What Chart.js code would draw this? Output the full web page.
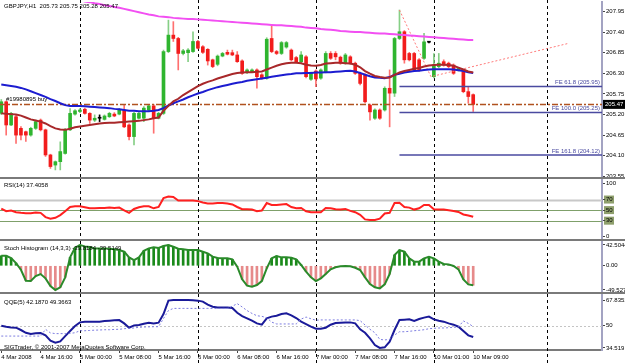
<!DOCTYPE html>
<html>
<head>
<meta charset="utf-8">
<title>GBPJPY,H1</title>
<script src="https://cdn.jsdelivr.net/npm/chart.js@4.4.1/dist/chart.umd.min.js"></script>
<style>
  html, body { margin: 0; padding: 0; background: #fff; }
  #chart { position: relative; width: 625px; height: 363px; overflow: hidden; }
  #chart canvas { position: absolute; left: 0; }
</style>
</head>
<body>
<div id="chart">
  <canvas id="main" width="625" height="179" style="top:0"></canvas>
  <canvas id="rsi" width="625" height="62" style="top:179px"></canvas>
  <canvas id="stoch" width="625" height="53" style="top:241px"></canvas>
  <canvas id="qqe" width="625" height="69" style="top:294px"></canvas>
</div>
<script>
// bougies H1 (barre 0 = 4 Mar 08:00)
const opens = [205.23,205.54,204.92,205.14,204.83,204.74,204.65,204.83,205.05,204.79,
  204.12,203.85,203.94,204.16,204.79,205.21,205.28,205.34,205.23,205.05,
  205.10,205.07,205.14,205.21,205.21,205.32,204.92,204.61,205.10,205.10,
  205.32,205.43,205.10,205.23,206.88,207.32,207.23,206.83,206.85,206.88,
  207.15,207.01,206.94,206.66,206.54,206.76,206.86,206.85,206.79,206.63,
  206.32,206.34,206.39,206.26,206.17,207.23,206.88,206.83,207.00,206.92,
  206.72,206.61,206.74,206.14,206.36,206.17,206.34,206.83,206.83,206.73,
  206.57,206.74,206.57,206.30,206.26,205.45,205.10,205.32,205.32,205.90,
  205.77,207.23,207.41,206.83,206.83,206.66,206.70,207.13,206.21,206.48,
  206.61,206.57,206.52,206.39,206.34,205.81,205.73];
const highs = [205.60,205.56,205.26,205.20,204.88,204.76,204.86,205.05,205.08,204.81,
  204.14,203.96,204.47,204.83,205.36,205.33,205.36,205.37,205.25,205.19,
  205.19,205.19,205.26,205.25,205.36,205.45,204.95,205.26,205.26,205.41,
  205.46,205.47,205.26,206.92,207.72,207.68,207.26,206.94,206.96,207.41,
  207.18,207.04,206.96,206.68,206.79,206.86,206.92,206.92,206.88,206.66,
  206.42,206.42,206.42,206.29,207.25,207.59,206.91,207.15,207.15,206.95,
  206.75,206.88,206.77,206.33,206.39,206.42,206.88,206.88,206.88,206.76,
  206.83,206.77,206.60,206.33,206.29,205.48,205.35,205.35,205.94,206.39,
  207.26,207.99,207.44,206.86,206.86,206.69,207.37,207.15,206.83,206.83,
  206.66,206.60,206.55,206.46,206.39,205.94,205.75];
const lows = [205.20,204.65,204.90,204.43,204.52,204.48,204.62,204.80,204.76,204.08,
  203.76,203.72,203.72,204.14,204.77,205.18,205.25,205.21,204.96,205.01,
  205.01,205.05,205.12,205.14,205.19,204.85,204.52,204.39,205.08,205.01,
  205.30,204.70,205.08,205.20,206.85,207.15,206.39,206.79,206.61,206.86,
  206.95,206.83,206.52,206.45,206.50,206.74,206.79,206.77,206.59,206.27,
  206.29,206.32,205.90,206.14,206.14,206.85,206.80,206.80,206.97,206.63,
  206.58,206.58,206.18,206.11,205.94,206.14,206.31,206.67,206.66,206.54,
  206.54,206.54,206.27,205.99,205.51,205.05,205.07,205.07,205.29,204.87,
  205.68,207.20,206.57,206.63,206.36,206.36,206.67,207.11,206.18,206.45,
  206.49,206.45,206.27,206.36,205.78,205.50,205.28];
const closes = [205.54,204.92,205.23,204.65,204.65,204.65,204.83,205.01,204.79,204.12,
  203.81,203.94,204.21,204.79,205.23,205.30,205.32,205.23,205.05,205.10,
  205.10,205.16,205.23,205.16,205.32,204.87,204.61,205.23,205.23,205.37,
  205.43,205.10,205.23,206.88,207.32,207.23,206.83,206.90,206.92,207.15,
  206.97,206.86,206.63,206.48,206.76,206.83,206.81,206.79,206.61,206.30,
  206.39,206.39,206.21,206.17,207.21,206.88,206.83,207.12,207.12,206.66,
  206.61,206.79,206.21,206.30,206.15,206.39,206.83,206.70,206.74,206.57,
  206.79,206.57,206.30,206.03,205.54,205.27,205.32,205.10,205.90,205.77,
  207.23,207.41,206.66,206.66,206.39,206.39,207.14,207.13,206.52,206.57,
  206.52,206.48,206.30,206.43,205.81,205.68,205.47];

// moyennes mobiles
const maFast = [205.23,205.22,205.21,205.20,205.17,205.12,205.07,205.04,205.01,204.96,
  204.89,204.83,204.80,204.79,204.82,204.86,204.88,204.90,204.92,204.94,
  204.96,204.97,204.98,204.98,204.99,205.00,205.01,205.02,205.03,205.05,
  205.07,205.10,205.12,205.30,205.43,205.55,205.62,205.72,205.80,205.88,
  205.96,206.02,206.07,206.11,206.16,206.20,206.24,206.28,206.31,206.32,
  206.33,206.33,206.34,206.35,206.40,206.45,206.50,206.54,206.57,206.58,
  206.58,206.57,206.53,206.51,206.50,206.52,206.56,206.57,206.58,206.58,
  206.57,206.56,206.53,206.46,206.36,206.29,206.23,206.20,206.18,206.19,
  206.26,206.32,206.36,206.39,206.42,206.44,206.48,206.51,206.52,206.53,
  206.53,206.52,206.50,206.45,206.40,206.35,206.32];
const maMid = [206.00,205.98,205.96,205.94,205.91,205.87,205.82,205.77,205.72,205.67,
  205.61,205.56,205.50,205.45,205.43,205.43,205.43,205.42,205.41,205.40,
  205.39,205.38,205.37,205.35,205.34,205.32,205.30,205.30,205.29,205.29,
  205.29,205.30,205.32,205.37,205.44,205.50,205.55,205.60,205.66,205.71,
  205.76,205.80,205.85,205.89,205.93,205.96,205.99,206.02,206.05,206.07,
  206.10,206.12,206.14,206.16,206.18,206.21,206.23,206.25,206.27,206.28,
  206.30,206.30,206.31,206.31,206.32,206.32,206.33,206.33,206.34,206.35,
  206.36,206.37,206.35,206.31,206.26,206.22,206.19,206.18,206.17,206.20,
  206.26,206.29,206.32,206.34,206.36,206.37,206.39,206.40,206.41,206.41,
  206.41,206.41,206.40,206.38,206.36,206.33,206.31];
const maSlow = [208.68,208.65,208.62,208.60,208.57,208.54,208.52,208.49,208.46,208.44,
  208.41,208.38,208.36,208.33,208.30,208.28,208.25,208.22,208.20,208.17,
  208.15,208.12,208.10,208.07,208.05,208.02,207.99,207.96,207.93,207.90,
  207.87,207.85,207.82,207.81,207.80,207.78,207.77,207.76,207.75,207.75,
  207.74,207.73,207.72,207.71,207.70,207.69,207.68,207.67,207.66,207.65,
  207.64,207.63,207.62,207.61,207.60,207.59,207.58,207.58,207.57,207.56,
  207.55,207.54,207.52,207.51,207.50,207.48,207.47,207.46,207.45,207.43,
  207.42,207.41,207.40,207.40,207.39,207.38,207.37,207.36,207.36,207.35,
  207.34,207.33,207.32,207.31,207.30,207.29,207.28,207.27,207.26,207.25,
  207.24,207.23,207.22,207.21,207.20,207.19,207.19];

// indicateurs
const rsi = [52.8,47.9,49.1,46.0,44.8,44.2,44.2,45.4,44.8,36.8,
  33.7,35.5,40.5,47.9,55.9,57.1,57.1,55.3,53.4,53.4,
  54.0,54.0,54.7,54.0,54.7,49.7,44.8,52.2,55.3,57.1,
  57.1,53.4,55.9,72.6,75.6,75.0,68.2,68.2,68.2,68.2,
  67.0,64.5,62.7,62.7,63.3,63.3,62.7,60.8,55.9,51.6,
  51.6,51.0,47.9,49.1,63.3,59.6,59.6,60.8,61.4,55.9,
  53.4,54.0,47.9,46.0,46.0,46.0,54.0,53.4,51.6,51.0,
  52.2,48.5,46.0,41.1,32.4,31.2,31.2,33.7,43.6,44.8,
  63.3,63.9,55.9,54.7,51.0,53.4,59.6,59.6,51.6,51.0,
  51.0,49.7,48.5,46.6,41.7,39.9,37.4058];
const stoch = [20.5,20.5,15.7,5.5,-8.1,-30.5,-31.2,-20.9,-16.9,-25.7,
  -41.4,-49.5,-44.1,-23.6,17.2,37.0,42.5,39.7,38.4,35.6,
  35.6,35.6,34.9,33.6,32.2,28.8,17.2,11.8,17.2,30.8,
  35.6,37.7,36.3,40.4,42.5,39.0,34.9,33.6,32.2,32.2,
  32.2,28.8,25.4,18.6,15.9,15.2,15.2,13.1,-1.9,-27.8,
  -40.7,-42.8,-39.4,-31.2,-5.3,15.2,20.0,17.2,17.2,16.5,
  13.1,1.6,-12.1,-23.6,-31.2,-25.7,-16.9,-7.3,-3.0,-1.2,
  -0.6,-0.8,-4.0,-8.7,-23.6,-37.3,-44.1,-46.2,-38.0,-16.9,
  22.0,32.2,28.8,15.2,8.4,8.4,15.2,18.6,15.2,8.4,
  3.6,2.9,-0.5,-7.3,-27.8,-38.0,-39.8];
const qqe = [50.0,49.3,48.8,48.6,47.0,45.1,44.2,44.7,44.9,43.3,
  39.6,38.2,39.1,42.8,46.3,49.8,52.3,52.8,52.8,52.8,
  52.8,53.2,53.5,53.7,53.9,51.6,48.6,50.2,50.5,51.4,
  52.1,51.6,52.1,58.1,67.4,67.8,67.8,67.8,67.8,67.6,
  67.4,66.7,64.6,63.2,62.7,62.7,62.7,62.3,59.0,56.7,
  55.1,53.5,51.6,50.7,55.1,56.3,56.9,58.1,58.6,57.2,
  55.3,52.8,51.1,49.3,47.9,47.9,48.6,50.7,51.9,52.1,
  52.3,52.3,51.6,47.5,45.1,41.2,36.6,34.6,35.0,38.9,
  47.0,54.0,54.2,54.4,53.3,54.6,55.6,56.3,54.4,53.5,
  52.8,51.6,50.7,49.3,46.3,43.3,42.187];
const qqeSignal = [42.8,42.8,42.8,42.8,42.8,42.8,42.8,42.8,42.8,47.5,
  45.0,44.5,44.5,44.5,44.7,45.1,46.5,46.5,46.7,46.9,
  47.0,47.2,47.2,47.4,47.5,47.9,48.2,48.4,48.9,49.1,
  49.2,49.3,49.3,55.0,60.5,62.0,62.0,62.0,62.0,62.0,
  62.0,62.0,62.0,62.0,62.0,62.0,62.0,63.5,65.3,63.0,
  60.5,58.5,56.9,56.5,55.5,52.5,51.2,51.2,51.2,51.2,
  51.2,54.6,56.0,54.8,53.8,54.0,54.0,54.0,54.0,54.0,
  54.0,54.0,54.0,53.5,50.5,47.5,45.1,40.5,40.1,40.5,
  43.5,45.8,45.8,46.1,46.5,46.8,47.2,47.9,48.2,48.4,
  48.4,48.6,48.9,49.1,53.3,51.6,49.3663];

// axe du temps
const labelBars = [0,8,16,24,32,40,48,56,64,72,80,88,96];
const timeLabels = ['4 Mar 2008','4 Mar 16:00','5 Mar 00:00','5 Mar 08:00','5 Mar 16:00','6 Mar 00:00',
  '6 Mar 08:00','6 Mar 16:00','7 Mar 00:00','7 Mar 08:00','7 Mar 16:00','10 Mar 01:00','10 Mar 09:00'];
const daySeparators = [16,40,64,88,111];

// graduations des axes de droite
const priceTicks = [207.95,207.40,206.85,206.30,205.75,205.20,204.65,204.10,203.55];
const rsiTicks = [100,70,50,30,0];
const rsiLevels = [70,50,30];
const stochTicks = [42.5044,0,-49.5278];
const stochTickLabels = ['42.5044','0.00','-49.5278'];
const qqeTicks = [67.8351,50,34.519];
const qqeTickLabels = ['67.8351','50','34.519'];

// objets dessinés (Fibonacci expansion, ordre)
const feLevels = [205.95,205.25,204.12];
const feNames = ['FE 61.8','FE 100.0','FE 161.8'];
const feStartBar = 81;
const fePathX = [81,87.4,115.4];
const fePathY = [207.99,206.21,207.10];
const orderPrice = 205.47;
const orderLabel = '#19980895 buy';

const X_MIN = -0.26, X_MAX = 122.2;
const FONT = "'Liberation Sans', Arial, sans-serif";

function pts(arr) { return arr.map((v, i) => ({ x: i, y: v })); }
function hline(v, fromX) { return [{ x: fromX, y: v }, { x: X_MAX, y: v }]; }

function yAxis(min, max, values, labels) {
    return {
        position: 'right', min: min, max: max,
        afterBuildTicks: s => { s.ticks = values.map(v => ({ value: v })); },
        afterFit: s => { s.width = 23; s.paddingTop = 0; s.paddingBottom = 0; },
        grid: { drawOnChartArea: false, drawTicks: true, tickLength: 3, tickColor: '#444' },
        border: { display: true, color: '#a3a3c2', width: 2 },
        ticks: { padding: 1, color: '#000', font: { family: FONT, size: 6 },
                 callback: (v, i) => labels[i] }
    };
}
const xHidden = { type: 'linear', min: X_MIN, max: X_MAX, offset: false, display: false };

function text(ctx, str, x, y, color, align) {
    ctx.save();
    ctx.font = '6px ' + FONT;
    ctx.fillStyle = color || '#000';
    ctx.textAlign = align || 'left';
    ctx.textBaseline = 'middle';
    ctx.fillText(str, x, y);
    ctx.restore();
}

// séparateurs de jours, niveaux, textes et bordures de fenêtre
function overlay(cfg) {
    return {
        id: 'overlay',
        beforeDraw(chart) {
            const { ctx, scales: { y } } = chart;
            (cfg.axisBoxes || []).forEach(v => {
                const py = y.getPixelForValue(v);
                ctx.fillStyle = '#8e9f6c';
                ctx.fillRect(604, py - 4, 10, 8);
            });
        },
        beforeDatasetsDraw(chart) {
            const { ctx, chartArea: a, scales: { x, y } } = chart;
            ctx.save();
            (cfg.levels || []).forEach(l => {
                const py = Math.round(y.getPixelForValue(l.value)) + 0.5;
                ctx.strokeStyle = l.color;
                ctx.lineWidth = l.width;
                ctx.setLineDash(l.dash || []);
                ctx.beginPath(); ctx.moveTo(a.left, py); ctx.lineTo(a.right, py); ctx.stroke();
            });
            ctx.strokeStyle = '#000';
            ctx.lineWidth = 1;
            ctx.setLineDash([3, 3]);
            const bottom = cfg.sepToBottom ? chart.height : a.bottom;
            daySeparators.forEach(b => {
                const px = Math.round(x.getPixelForValue(b)) + 0.5;
                ctx.beginPath(); ctx.moveTo(px, 0); ctx.lineTo(px, bottom); ctx.stroke();
            });
            ctx.restore();
        },
        afterDraw(chart) {
            const ctx = chart.ctx;
            if (cfg.draw) cfg.draw(chart);
            (cfg.texts || []).forEach(t => text(ctx, t.str, t.x, t.y, t.color, t.align));
            if (cfg.rule) {
                ctx.fillStyle = '#7a7a7a';
                ctx.fillRect(0, chart.height - 2, chart.width, 2);
            }
        }
    };
}

function baseOptions(x, y, padding) {
    return {
        animation: false, responsive: false, events: [],
        layout: { padding: padding },
        plugins: { legend: { display: false }, tooltip: { enabled: false } },
        scales: { x: x, y: y }
    };
}

const last = opens.length - 1;
const bodyColors = closes.map((c, i) => c > opens[i] ? '#2fb52f' : (c < opens[i] ? '#f21c1c' : '#000'));
const wickColors = closes.map((c, i) => c > opens[i] ? '#86cf86' : (c < opens[i] ? '#ff7070' : '#000'));
const lineDs = (data, color, width, extra) => Object.assign({
    type: 'line', data: data, borderColor: color, borderWidth: width,
    pointRadius: 0, tension: 0, order: 0
}, extra || {});

// fenêtre principale
new Chart(document.getElementById('main'), {
    type: 'bar',
    data: { datasets: [
        lineDs(pts(maSlow), '#f24ff2', 2),
        lineDs(pts(maFast), '#a8282a', 2),
        lineDs(pts(maMid), '#1c1cd0', 2),
        { data: highs.map((h, i) => ({ x: i, y: [lows[i], h] })), backgroundColor: wickColors,
          barThickness: 1, grouped: false, order: 4 },
        { data: opens.map((o, i) => ({ x: i, y: [Math.min(o, closes[i]), Math.max(o, closes[i])] })),
          backgroundColor: bodyColors, barThickness: 3, minBarLength: 1, grouped: false, order: 3 },
        ...feLevels.map(v => lineDs(hline(v, feStartBar), '#4a4aa0', 1.5)),
        lineDs(fePathX.map((x, i) => ({ x: x, y: fePathY[i] })), '#ff7a7a', 1, { borderDash: [2, 2] }),
        lineDs(hline(orderPrice, X_MIN), '#b0521f', 1.5, { borderDash: [6, 2, 2, 2] })
    ] },
    options: baseOptions(xHidden, yAxis(203.531, 208.204, priceTicks, priceTicks.map(v => v.toFixed(2))),
        { top: 2, bottom: 2, left: 0, right: 0 }),
    plugins: [overlay({
        rule: true,
        texts: [{ str: 'GBPJPY,H1  ' + [opens[last], highs[last], lows[last], closes[last]].map(v => v.toFixed(2)).join(' '), x: 4, y: 6 }],
        draw(chart) {
            const ctx = chart.ctx, y = chart.scales.y;
            text(ctx, orderLabel, 6, y.getPixelForValue(orderPrice) - 5, '#000');
            feLevels.forEach((v, i) => {
                text(ctx, feNames[i] + ' (' + v.toFixed(2) + ')', 600, y.getPixelForValue(v) - 4, '#4a4aa0', 'right');
            });
            const py = y.getPixelForValue(closes[last]);
            ctx.fillStyle = '#000';
            ctx.fillRect(603, py - 4.5, 22, 9);
            text(ctx, closes[last].toFixed(2), 605, py, '#fff');
        }
    })]
});

// RSI
new Chart(document.getElementById('rsi'), {
    type: 'line',
    data: { datasets: [lineDs(pts(rsi), '#ff2020', 2)] },
    options: baseOptions(xHidden, yAxis(-4.7, 107.0, rsiTicks, rsiTicks.map(String)),
        { top: 1, bottom: 2, left: 0, right: 0 }),
    plugins: [overlay({
        rule: true,
        axisBoxes: rsiLevels,
        levels: rsiLevels.map((v, i) => ({ value: v, color: i === 0 ? '#c8c8c8' : '#7fa06a', width: i === 0 ? 2 : 1 })),
        texts: [{ str: 'RSI(14) 37.4058', x: 4, y: 185 - 179 }]
    })]
});

// Stoch Histogram
new Chart(document.getElementById('stoch'), {
    type: 'bar',
    data: { datasets: [
        lineDs(pts(stoch), '#2a8a2a', 2),
        { data: pts(stoch), backgroundColor: stoch.map(v => v >= 0 ? '#1a8a1a' : '#e68a8a'),
          barThickness: 2, grouped: false, order: 2 }
    ] },
    options: baseOptions(xHidden, yAxis(-53.62, 48.64, stochTicks, stochTickLabels),
        { top: 1, bottom: 2, left: 0, right: 0 }),
    plugins: [overlay({
        rule: true,
        texts: [{ str: 'Stoch Histogram (14,3,3) -39.8184 -39.5149', x: 4, y: 248 - 241 }]
    })]
});

// QQE
new Chart(document.getElementById('qqe'), {
    type: 'line',
    data: { datasets: [
        lineDs(pts(qqeSignal), '#7d7de0', 1, { borderDash: [2, 2] }),
        lineDs(pts(qqe), '#1a1a99', 2)
    ] },
    options: baseOptions({
        type: 'linear', min: X_MIN, max: X_MAX, offset: false,
        afterBuildTicks: s => { s.ticks = labelBars.map(v => ({ value: v })); },
        afterFit: s => { s.height = 13; s.paddingLeft = 0; s.paddingRight = 0; },
        grid: { drawOnChartArea: false, drawTicks: true, tickLength: 3, color: '#444' },
        border: { display: true, color: '#7a7a7a', width: 2 },
        ticks: { autoSkip: false, maxRotation: 0, align: 'start', padding: 1, color: '#000',
                 font: { family: FONT, size: 6 }, callback: (v, i) => timeLabels[i] }
    }, yAxis(33.127, 71.306, qqeTicks, qqeTickLabels), { top: 1, bottom: 0, left: 0, right: 0 }),
    plugins: [overlay({
        sepToBottom: true,
        levels: [{ value: 50, color: '#c4c4c4', width: 1, dash: [2, 2] }],
        texts: [
            { str: 'QQE(5) 42.1870 49.3663', x: 4, y: 302 - 294 },
            { str: 'SIGTrader, \u00a9 2001-2007 MetaQuotes Software Corp.', x: 4, y: 347 - 294 }
        ]
    })]
});
</script>
</body>
</html>
